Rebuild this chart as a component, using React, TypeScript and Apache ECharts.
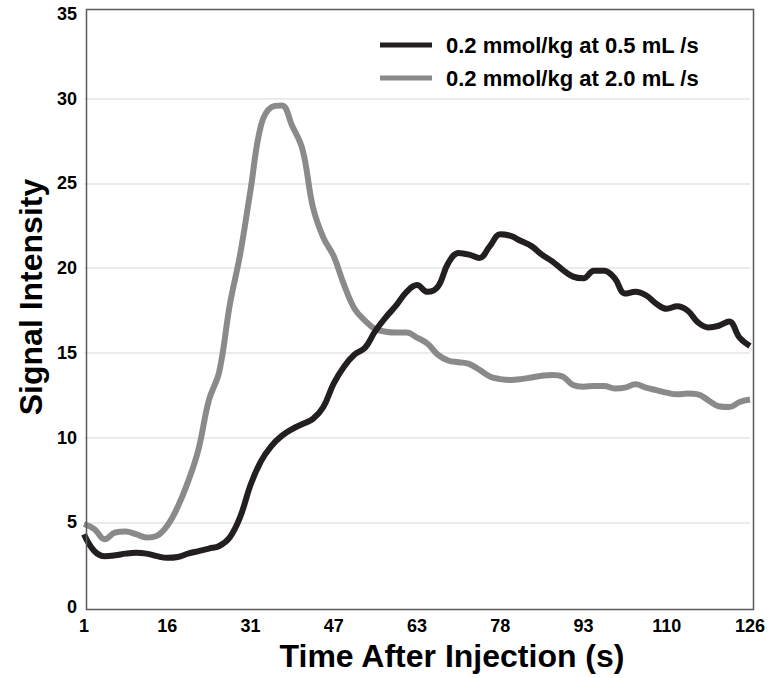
import React, { useEffect, useRef } from "react";
import * as echarts from "echarts";

const xTickLabels = ["1", "16", "31", "47", "63", "78", "93", "110", "126"];
const samplesPerLabel = 8;
const sampleIndex: number[] = Array.from({ length: 65 }, (_, i) => i);

const slowName = "0.2 mmol/kg at 0.5 mL /s";
const fastName = "0.2 mmol/kg at 2.0 mL /s";

const slowValues = [
  4.3, 3.3, 3.0, 3.05, 3.15, 3.2, 3.15, 3.0, 2.9, 2.95, 3.15, 3.3, 3.45, 3.6, 4.1, 5.3,
  7.2, 8.6, 9.5, 10.1, 10.5, 10.8, 11.1, 11.8, 13.2, 14.2, 14.9, 15.3, 16.3, 17.1, 17.8, 18.6,
  19.0, 18.6, 18.9, 20.3, 20.9, 20.8, 20.6, 21.3, 22.0, 21.9, 21.6, 21.3, 20.8, 20.4, 19.9, 19.5,
  19.4, 19.85, 19.85, 19.4, 18.5, 18.6, 18.4, 17.9, 17.6, 17.75, 17.5, 16.8, 16.5, 16.6, 16.85, 15.9,
  15.4,
];

const fastValues = [
  4.9, 4.6, 4.0, 4.4, 4.45, 4.3, 4.1, 4.2, 4.8, 5.9, 7.4, 9.3, 12.2, 13.9, 17.8, 20.8,
  24.6, 28.4, 29.5, 29.6, 28.4, 27.0, 23.6, 21.8, 20.7, 19.0, 17.6, 16.9, 16.4, 16.25, 16.2, 16.2,
  15.9, 15.55, 14.9, 14.55, 14.45, 14.35, 14.0, 13.6, 13.45, 13.4, 13.45, 13.55, 13.65, 13.7, 13.6, 13.1,
  13.0, 13.05, 13.05, 12.9, 12.95, 13.15, 12.95, 12.8, 12.65, 12.55, 12.6, 12.55, 12.2, 11.85, 11.8, 12.1,
  12.25,
];

const FONT = "'Liberation Sans', Arial, Helvetica, sans-serif";

export default function App() {
  const ref = useRef<HTMLDivElement>(null);
  useEffect(() => {
    if (!ref.current) return;
    const chart = echarts.init(ref.current, null, { renderer: "svg" });
    const gridLeft = 84;
    const gridRight = 17;
    const gridTop = 14;
    const gridBottom = 71;
    chart.setOption({
      animation: false,
      backgroundColor: "#ffffff",
      grid: { left: gridLeft, right: gridRight, top: gridTop, bottom: gridBottom, containLabel: false },
      legend: {
        orient: "vertical",
        left: 380,
        top: 34,
        padding: 0,
        itemWidth: 52,
        itemHeight: 5,
        itemGap: 11,
        icon: "rect",
        textStyle: {
          fontFamily: FONT,
          fontWeight: "bold",
          fontSize: 22,
          color: "#000",
          padding: [0, 0, 0, 9],
        },
        data: [slowName, fastName],
      },
      xAxis: {
        type: "category",
        data: sampleIndex,
        boundaryGap: false,
        axisLine: { show: false },
        axisTick: { show: false },
        splitLine: { show: false },
        axisLabel: {
          interval: samplesPerLabel - 1,
          margin: 10,
          fontFamily: FONT,
          fontWeight: "bold",
          fontSize: 18,
          color: "#000",
          formatter: (_v: string, i: number) => xTickLabels[Math.round(i / samplesPerLabel)] ?? "",
        },
      },
      yAxis: {
        type: "value",
        min: 0,
        max: 35,
        interval: 5,
        axisLine: { show: false },
        axisTick: { show: false },
        axisLabel: {
          margin: 7,
          fontFamily: FONT,
          fontWeight: "bold",
          fontSize: 18,
          color: "#000",
        },
        splitLine: {
          show: true,
          showMinLine: false,
          showMaxLine: false,
          lineStyle: { color: "#ebebeb", width: 2 },
        },
      },
      graphic: [
        {
          type: "rect",
          left: gridLeft,
          top: 7,
          shape: { x: 0, y: 0, width: 768 - gridLeft - gridRight, height: 678 - gridBottom - 7 },
          style: { fill: "none", stroke: "#5a5a5a", lineWidth: 1.5 },
          z: 10,
          silent: true,
        },
        {
          type: "text",
          x: 452,
          y: 656,
          style: {
            text: "Time After Injection (s)",
            fontFamily: FONT,
            fontWeight: "bold",
            fontSize: 32,
            fill: "#000",
            textAlign: "center",
            textVerticalAlign: "middle",
          },
        },
        {
          type: "text",
          x: 31,
          y: 297,
          rotation: Math.PI / 2,
          style: {
            text: "Signal Intensity",
            fontFamily: FONT,
            fontWeight: "bold",
            fontSize: 32,
            fill: "#000",
            textAlign: "center",
            textVerticalAlign: "middle",
          },
        },
      ],
      series: [
        {
          name: slowName,
          type: "line",
          data: slowValues,
          smooth: 0.4,
          showSymbol: false,
          symbol: "none",
          color: "#231f20",
          lineStyle: { color: "#231f20", width: 6 },
          z: 3,
        },
        {
          name: fastName,
          type: "line",
          data: fastValues,
          smooth: 0.4,
          showSymbol: false,
          symbol: "none",
          color: "#8a8a8a",
          lineStyle: { color: "#8a8a8a", width: 6 },
          z: 2,
        },
      ],
    });
    return () => chart.dispose();
  }, []);
  return <div ref={ref} style={{ width: 768, height: 678, position: "absolute", left: 0, top: 0 }} />;
}
